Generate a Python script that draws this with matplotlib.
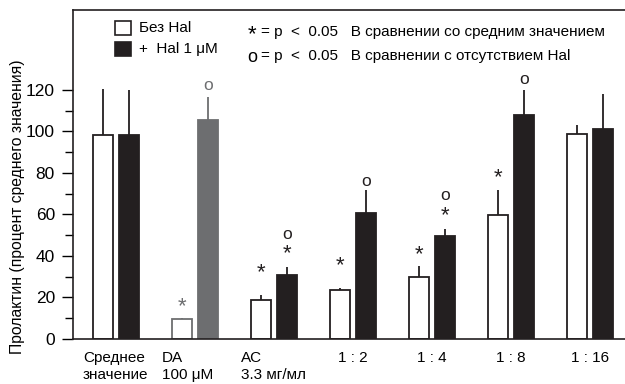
import numpy as np
import matplotlib
matplotlib.use("Agg")
import matplotlib.pyplot as plt

plt.rcParams['font.family'] = ['Liberation Sans', 'DejaVu Sans']

groups = ["Среднее\nзначение", "DA\n100 μM", "AC\n3.3 мг/мл", "1 : 2", "1 : 4", "1 : 8", "1 : 16"]
no_hal = [98.5, 9.5, 19, 23.5, 30, 59.5, 99]
no_hal_err = [22, 0.5, 2, 1.2, 5, 12.5, 4]
hal = [98.5, 105.5, 30.8, 60.5, 49.6, 108, 101]
hal_err = [21.5, 11, 4, 11.5, 3.5, 12, 17]
# significance marks: (group, which bar, symbol, value)
marks = [(1, 0, "*", 15.5), (1, 1, "o", 122),
         (2, 0, "*", 32), (2, 1, "*", 41), (2, 1, "o", 50.5),
         (3, 0, "*", 35.5), (3, 1, "o", 76),
         (4, 0, "*", 40.5), (4, 1, "*", 59.5), (4, 1, "o", 69),
         (5, 0, "*", 77.5), (5, 1, "o", 125)]

fig = plt.figure(figsize=(6.25, 3.84), dpi=100)
ax = fig.add_axes([73/625, 1-339/384, 1-73/625, (339-10)/384])

x = np.arange(len(groups))
w = 0.25
off = 0.165
dark = "#231f20"
grey = "#6d6e70"

for i in range(len(groups)):
    ec = grey if i == 1 else dark
    ax.bar(x[i]-off, no_hal[i], w, color="white", edgecolor=ec, linewidth=1.3, zorder=2)
    ax.vlines(x[i]-off, no_hal[i], no_hal[i]+no_hal_err[i], color=ec, lw=1.3, zorder=1)
    fc = grey if i == 1 else dark
    ax.bar(x[i]+off, hal[i], w, color=fc, edgecolor=fc, linewidth=1.3, zorder=2)
    ax.vlines(x[i]+off, hal[i], hal[i]+hal_err[i], color=fc, lw=1.3, zorder=1)

for g, b, s, v in marks:
    col = grey if g == 1 else dark
    xx = x[g]-off if b == 0 else x[g]+off
    if s == "*":
        ax.text(xx, v, "*", ha="center", va="center", fontsize=16, color=col)
    else:
        ax.text(xx, v, "o", ha="center", va="center", fontsize=12.5, color=col)

ax.set_xlim(-0.544, 6.44)
ax.set_ylim(0, 158.5)
ax.set_yticks(np.arange(0, 121, 20))
ax.set_yticks(np.arange(10, 120, 20), minor=True)
ax.tick_params(axis="y", which="major", length=8, width=1, labelsize=12.5, pad=5, direction="out")
ax.tick_params(axis="y", which="minor", length=6, width=1)
ax.set_xticks([])
ax.spines["right"].set_visible(False)
for s in ["left", "top", "bottom"]:
    ax.spines[s].set_linewidth(1.2)
    ax.spines[s].set_color(dark)
fig.text(18/625, 1-207/384, "Пролактин (процент среднего значения)", fontsize=11.3,
         rotation=90, ha="center", va="center")

# category labels under the axis
for i, g in enumerate(groups):
    if "\n" in g:
        ax.text(x[i]-0.42, -6, g, ha="left", va="top", fontsize=11, linespacing=1.2)
    else:
        ax.text(x[i], -6, g, ha="center", va="top", fontsize=11)

# legend
fig.patches.append(plt.Rectangle((115/625, 1-35/384), 16/625, 14/384, transform=fig.transFigure,
                                 facecolor="white", edgecolor=dark, lw=1.2))
fig.patches.append(plt.Rectangle((115/625, 1-56/384), 16/625, 14/384, transform=fig.transFigure,
                                 facecolor=dark, edgecolor=dark, lw=1.2))
fig.text(139/625, 1-28/384, "Без Hal", fontsize=11, va="center")
fig.text(139/625, 1-49/384, "+  Hal 1 μM", fontsize=11, va="center")
fig.text(248/625, 1-35/384, "*", fontsize=16, va="center")
fig.text(261/625, 1-32/384, "= p  <  0.05   В сравнении со средним значением", fontsize=11, va="center")
fig.text(247/625, 1-57/384, "o", fontsize=13, va="center")
fig.text(261/625, 1-56/384, "= p  <  0.05   В сравнении с отсутствием Hal", fontsize=11, va="center")

fig.savefig("out.png", dpi=100)
